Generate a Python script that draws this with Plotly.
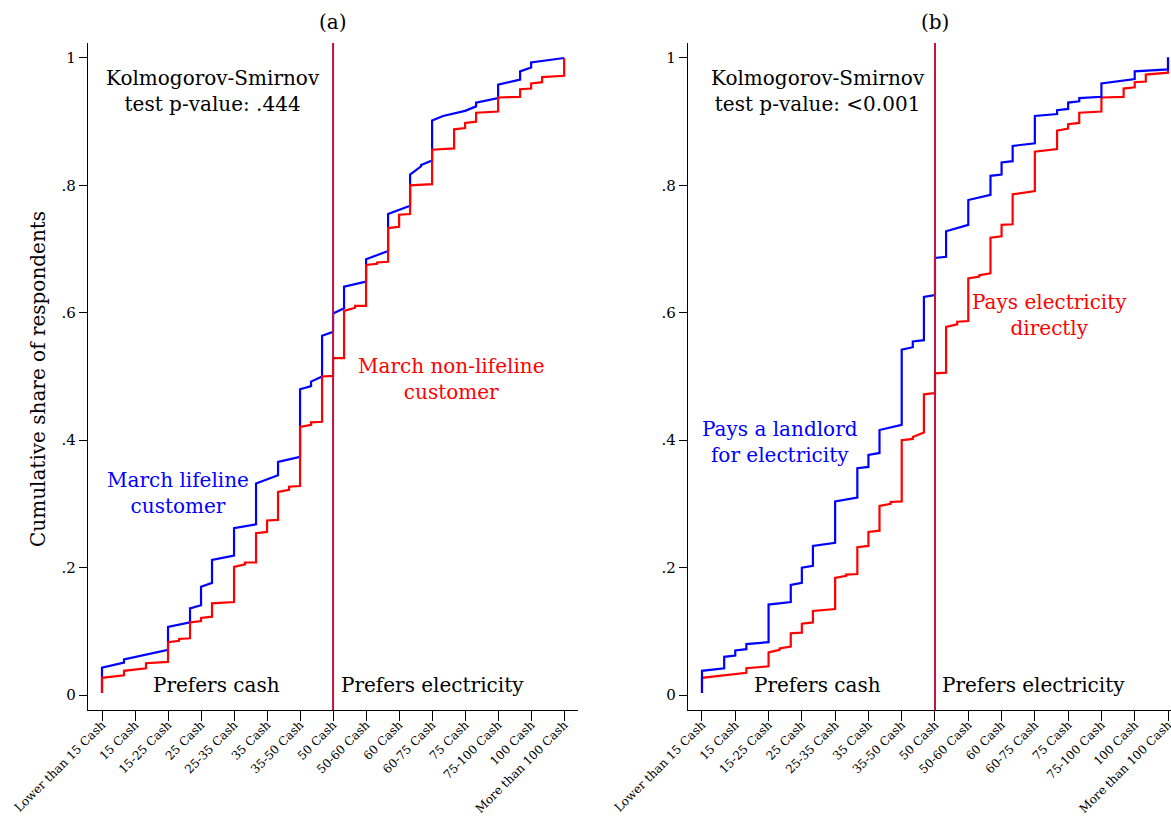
import plotly.graph_objects as go

categories = ["Lower than 15 Cash", "15 Cash", "15-25 Cash", "25 Cash", "25-35 Cash",
              "35 Cash", "35-50 Cash", "50 Cash", "50-60 Cash", "60 Cash",
              "60-75 Cash", "75 Cash", "75-100 Cash", "100 Cash", "More than 100 Cash"]
y_ticks = [0, 0.2, 0.4, 0.6, 0.8, 1]
y_ticklabels = ["0", ".2", ".4", ".6", ".8", "1"]

# Panel (a): March lifeline customer (blue)
a_life_x = [0, 0.667, 2, 2.667, 3, 3.333, 4, 4.667, 5.333, 6, 6.333, 6.667, 7, 7.333, 8,
            8.667, 9.333, 9.667, 10, 10.333, 11, 11.333, 12, 12.667, 13, 14]
a_life_lo = [0.003, 0.051, 0.071, 0.114, 0.141, 0.176, 0.219, 0.268, 0.345, 0.374, 0.485, 0.500,
             0.570, 0.607, 0.649, 0.697, 0.768, 0.830, 0.839, 0.909, 0.917, 0.924, 0.937, 0.966,
             0.985, 1.000]
a_life_hi = [0.043, 0.056, 0.107, 0.136, 0.170, 0.212, 0.262, 0.332, 0.366, 0.480, 0.492, 0.564,
             0.599, 0.641, 0.684, 0.755, 0.817, 0.832, 0.902, 0.909, 0.917, 0.930, 0.958, 0.979,
             0.993, 1.000]

# Panel (a): March non-lifeline customer (red)
a_non_x = [0, 0.667, 1.333, 2, 2.333, 2.667, 3, 3.333, 4, 4.333, 4.667, 5, 5.333, 5.667, 6,
           6.333, 6.667, 7, 7.333, 7.667, 8, 8.333, 8.667, 9, 9.333, 10, 10.667, 11, 11.333,
           12, 12.667, 13, 13.333, 14]
a_non_lo = [0.003, 0.031, 0.042, 0.052, 0.085, 0.089, 0.116, 0.123, 0.146, 0.205, 0.208, 0.256,
            0.275, 0.322, 0.328, 0.424, 0.429, 0.501, 0.529, 0.608, 0.611, 0.677, 0.680, 0.735,
            0.755, 0.802, 0.858, 0.890, 0.900, 0.916, 0.939, 0.952, 0.962, 0.972]
a_non_hi = [0.027, 0.038, 0.050, 0.083, 0.088, 0.114, 0.121, 0.144, 0.201, 0.208, 0.254, 0.274,
            0.319, 0.327, 0.421, 0.428, 0.500, 0.529, 0.603, 0.611, 0.675, 0.679, 0.733, 0.754,
            0.800, 0.856, 0.888, 0.898, 0.914, 0.938, 0.951, 0.960, 0.970, 1.000]

# Panel (b): Pays a landlord for electricity (blue)
b_land_x = [0, 0.667, 1, 1.333, 2, 2.667, 3, 3.333, 4, 4.667, 5, 5.333, 6, 6.333, 6.667, 7,
            7.333, 8, 8.667, 9, 9.333, 10, 10.667, 11, 11.333, 12, 13, 14]
b_land_lo = [0.003, 0.042, 0.062, 0.072, 0.083, 0.146, 0.176, 0.203, 0.239, 0.310, 0.358, 0.380,
             0.424, 0.546, 0.557, 0.628, 0.688, 0.738, 0.785, 0.817, 0.838, 0.866, 0.912, 0.920,
             0.932, 0.939, 0.967, 0.982]
b_land_hi = [0.038, 0.060, 0.070, 0.080, 0.142, 0.173, 0.200, 0.234, 0.304, 0.356, 0.377, 0.416,
             0.542, 0.555, 0.625, 0.686, 0.728, 0.777, 0.815, 0.836, 0.862, 0.909, 0.918, 0.930,
             0.937, 0.960, 0.979, 1.001]

# Panel (b): Pays electricity directly (red)
b_dir_x = [0, 1.333, 2, 2.333, 2.667, 3, 3.333, 4, 4.333, 4.667, 5, 5.333, 5.667, 6, 6.333,
           6.667, 7, 7.333, 7.667, 8, 8.333, 8.667, 9, 9.333, 10, 10.667, 11, 11.333, 12,
           12.667, 13, 13.333, 14]
b_dir_lo = [0.003, 0.035, 0.045, 0.071, 0.076, 0.098, 0.114, 0.135, 0.187, 0.190, 0.234, 0.258,
            0.300, 0.304, 0.402, 0.412, 0.474, 0.506, 0.582, 0.587, 0.657, 0.662, 0.720, 0.739,
            0.791, 0.857, 0.889, 0.898, 0.916, 0.939, 0.954, 0.963, 0.977]
b_dir_hi = [0.027, 0.042, 0.067, 0.073, 0.097, 0.112, 0.132, 0.184, 0.189, 0.232, 0.256, 0.297,
            0.303, 0.400, 0.405, 0.472, 0.505, 0.578, 0.586, 0.654, 0.659, 0.718, 0.738, 0.786,
            0.853, 0.886, 0.896, 0.914, 0.938, 0.952, 0.962, 0.974, 1.000]

FONT = "DejaVu Serif"
BLUE = "#0000FF"
RED = "#FF0000"
CRAN = "#C0143C"

W, H = 1171, 816


def fx(p):  # reference pixel x -> paper fraction
    return p / W


def fy(p):  # reference pixel y -> paper fraction
    return 1 - p / H


def path(xs, lo, hi):
    px, py = [], []
    for x, a, b in zip(xs, lo, hi):
        px += [x, x]
        py += [a, b]
    return px, py


fig = go.Figure()

for xs, lo, hi, col, ax in [
    (a_life_x, a_life_lo, a_life_hi, BLUE, "x"),
    (a_non_x, a_non_lo, a_non_hi, RED, "x"),
    (b_dir_x, b_dir_lo, b_dir_hi, RED, "x2"),
    (b_land_x, b_land_lo, b_land_hi, BLUE, "x2"),
]:
    px, py = path(xs, lo, hi)
    fig.add_trace(go.Scatter(x=px, y=py, mode="lines", line=dict(color=col, width=2.2),
                             xaxis=ax, yaxis="y" if ax == "x" else "y2",
                             showlegend=False, hoverinfo="skip", cliponaxis=False))

yr = [-0.0235, 1.0235]
ydom = [fy(710), fy(43)]

axis_common = dict(showline=True, linecolor="black", linewidth=1.3, ticks="outside",
                   tickcolor="black", tickwidth=1.3, showgrid=False, zeroline=False,
                   automargin=False, ticklabeloverflow="allow")
xcommon = dict(axis_common, tickmode="array", tickvals=list(range(len(categories))),
               ticktext=categories, tickangle=-45, ticklen=10, ticklabelstandoff=-8,
               tickfont=dict(family=FONT, size=12, color="black"))
ycommon = dict(axis_common, range=yr, domain=ydom, tickmode="array", tickvals=y_ticks,
               ticktext=y_ticklabels, ticklen=8,
               tickfont=dict(family=FONT, size=15, color="black"))

fig.update_layout(
    width=W, height=H, autosize=False,
    margin=dict(l=0, r=0, t=0, b=0),
    paper_bgcolor="white", plot_bgcolor="white",
    xaxis=dict(xcommon, domain=[fx(88), fx(578)], range=[-0.424, 14.42], anchor="y"),
    yaxis=dict(ycommon, anchor="x"),
    xaxis2=dict(xcommon, domain=[fx(688), 1.0], range=[-0.42, 14.09], anchor="y2"),
    yaxis2=dict(ycommon, anchor="x2"),
    font=dict(family=FONT, color="black"),
    hovermode=False,
)

# vertical reference lines at 50 Cash
for xr, yrf in [("x", "y"), ("x2", "y2")]:
    fig.add_shape(type="line", xref=xr, yref=yrf + " domain", x0=7, x1=7, y0=0, y1=1,
                  line=dict(color=CRAN, width=2))

ann = []


def add(text, x, y, xr, yr_, color="black", size=20, angle=0):
    ann.append(dict(text=text, x=x, y=y, xref=xr, yref=yr_, showarrow=False,
                    font=dict(family=FONT, size=size, color=color), align="center",
                    xanchor="center", yanchor="middle", textangle=angle))


add("Kolmogorov-Smirnov<br>test p-value: .444", 3.36, 0.948, "x", "y")
add("March lifeline<br>customer", 2.3, 0.317, "x", "y", BLUE)
add("March non-lifeline<br>customer", 10.58, 0.496, "x", "y", RED)
add("Prefers cash", 3.48, 0.016, "x", "y")
add("Prefers electricity", 10.0, 0.016, "x", "y")

add("Kolmogorov-Smirnov<br>test p-value: <0.001", 3.48, 0.948, "x2", "y2")
add("Pays a landlord<br>for electricity", 2.34, 0.397, "x2", "y2", BLUE)
add("Pays electricity<br>directly", 10.45, 0.597, "x2", "y2", RED)
add("Prefers cash", 3.48, 0.016, "x2", "y2")
add("Prefers electricity", 9.97, 0.016, "x2", "y2")

add("(a)", fx(333), fy(22), "paper", "paper")
add("(b)", fx(935), fy(22), "paper", "paper")
add("Cumulative share of respondents", fx(38), fy(379), "paper", "paper", angle=-90)

fig.update_layout(annotations=ann)
fig.write_html("out.html",
               config={"displayModeBar": False},
               post_script="document.body.style.margin='0px';"
                           "document.body.style.overflow='hidden';")
